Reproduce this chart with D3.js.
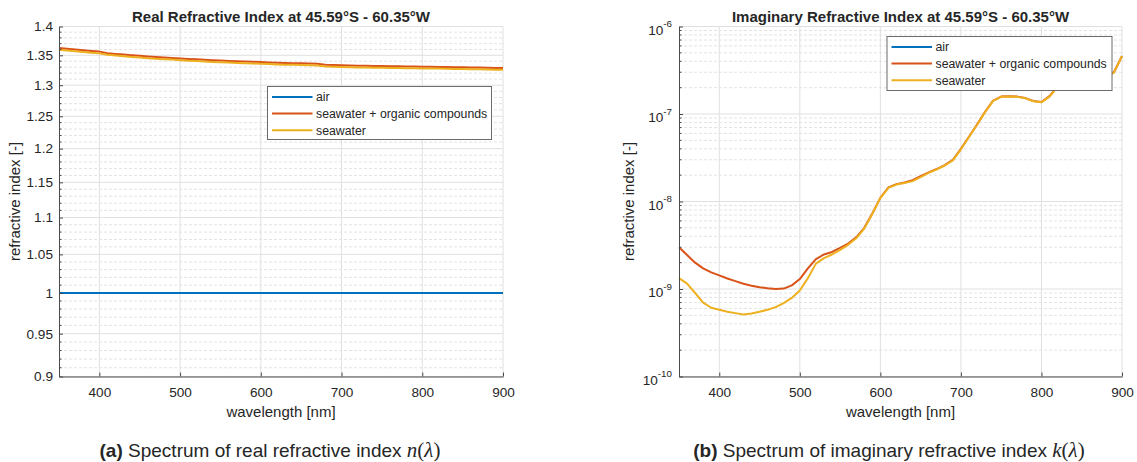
<!DOCTYPE html>
<html>
<head>
<meta charset="utf-8">
<script src="https://cdn.jsdelivr.net/npm/d3@7"></script>
<style>
  body { margin: 0; background: #fff; }
  svg text { font-family: "Liberation Sans", Arial, Helvetica, sans-serif; fill: #262626; }
</style>
</head>
<body>
<svg id="fig" width="1137" height="462"></svg>
<script>
// Wavelength grid [nm]
const wavelength = [350,360,370,380,390,400,410,420,430,440,450,460,470,480,490,500,510,520,530,540,
  550,560,570,580,590,600,610,620,630,640,650,660,670,680,690,700,710,720,730,740,750,760,770,780,790,
  800,810,820,830,840,850,860,870,880,890,900];

// Real part n(λ)
const nAir = [1,1,1,1,1,1,1,1,1,1,1,1,1,1,1,1,1,1,1,1,1,1,1,1,1,1,1,1,1,1,1,1,1,1,1,1,1,1,1,1,
  1,1,1,1,1,1,1,1,1,1,1,1,1,1,1,1];
const nOrganic = [1.3625,1.3611,1.3598,1.3586,1.3574,1.3563,1.3537,1.3524,1.3512,1.3501,1.3491,1.3481,
  1.3472,1.3463,1.3456,1.3446,1.3438,1.3431,1.3424,1.3417,1.3411,1.3405,1.3400,1.3395,1.3390,1.3385,
  1.3380,1.3375,1.3371,1.3367,1.3364,1.3361,1.3358,1.3341,1.3335,1.3330,1.3327,1.3324,1.3322,1.3320,
  1.3318,1.3316,1.3314,1.3312,1.3310,1.3308,1.3306,1.3304,1.3301,1.3299,1.3297,1.3294,1.3292,1.3290,
  1.3287,1.3285];
const nSeawater = [1.3595,1.3582,1.3569,1.3557,1.3545,1.3533,1.3508,1.3495,1.3483,1.3472,1.3462,1.3452,
  1.3443,1.3434,1.3427,1.3417,1.3409,1.3402,1.3395,1.3388,1.3382,1.3376,1.3371,1.3366,1.3361,1.3356,
  1.3351,1.3346,1.3342,1.3338,1.3335,1.3332,1.3329,1.3312,1.3306,1.3301,1.3298,1.3295,1.3293,1.3291,
  1.3289,1.3287,1.3285,1.3283,1.3281,1.3279,1.3277,1.3275,1.3272,1.3270,1.3268,1.3265,1.3263,1.3261,
  1.3258,1.3256];

// Imaginary part k(λ); air is zero and drops out on a log axis
const kAir = [0,0,0,0,0,0,0,0,0,0,0,0,0,0,0,0,0,0,0,0,0,0,0,0,0,0,0,0,0,0,0,0,0,0,0,0,0,0,0,0,
  0,0,0,0,0,0,0,0,0,0,0,0,0,0,0,0];
const kOrganic = [3.0e-9,2.45e-9,2.0e-9,1.72e-9,1.55e-9,1.43e-9,1.32e-9,1.23e-9,1.15e-9,1.09e-9,
  1.05e-9,1.02e-9,1.0e-9,1.01e-9,1.1e-9,1.3e-9,1.72e-9,2.2e-9,2.48e-9,2.65e-9,2.95e-9,3.3e-9,3.9e-9,
  5.0e-9,7.3e-9,1.1e-8,1.45e-8,1.58e-8,1.65e-8,1.75e-8,1.95e-8,2.15e-8,2.35e-8,2.6e-8,3.0e-8,4.0e-8,
  5.5e-8,7.6e-8,1.06e-7,1.42e-7,1.58e-7,1.6e-7,1.58e-7,1.52e-7,1.41e-7,1.37e-7,1.6e-7,2.05e-7,2.4e-7,
  2.7e-7,2.9e-7,2.95e-7,2.85e-7,2.7e-7,3.0e-7,4.6e-7];
const kSeawater = [1.33e-9,1.15e-9,9.0e-10,7.0e-10,6.1e-10,5.8e-10,5.5e-10,5.3e-10,5.1e-10,5.25e-10,
  5.5e-10,5.8e-10,6.2e-10,6.9e-10,7.9e-10,9.6e-10,1.33e-9,1.95e-9,2.25e-9,2.48e-9,2.8e-9,3.2e-9,3.8e-9,
  4.9e-9,7.2e-9,1.1e-8,1.43e-8,1.56e-8,1.63e-8,1.71e-8,1.9e-8,2.12e-8,2.33e-8,2.58e-8,2.95e-8,3.95e-8,
  5.45e-8,7.5e-8,1.05e-7,1.41e-7,1.57e-7,1.59e-7,1.57e-7,1.51e-7,1.4e-7,1.36e-7,1.58e-7,2.03e-7,2.38e-7,
  2.68e-7,2.88e-7,2.93e-7,2.83e-7,2.68e-7,2.97e-7,4.58e-7];

const seriesNames = ["air", "seawater + organic compounds", "seawater"];
const seriesColors = ["#0072BD", "#D95319", "#EDB120"];

const nTicks = [0.9,0.95,1,1.05,1.1,1.15,1.2,1.25,1.3,1.35,1.4];
const kTicks = [1e-10,1e-9,1e-8,1e-7,1e-6];
const xTicks = [400,500,600,700,800,900];

const svg = d3.select("#fig");
const plotTop = 26.5, plotBottom = 376.5;
const tickFont = 13.6, labelFont = 15, legendFont = 12.3;
const serif = '"Liberation Serif", "DejaVu Serif", serif';

function panel(opts) {
  const g = svg.append("g");
  const x = d3.scaleLinear([350, 900], [opts.left, opts.right]);
  const y = opts.y;

  // grid: minor y (dashed), then major x and y
  g.append("g").selectAll("line").data(opts.minor).join("line")
    .attr("x1", opts.left).attr("x2", opts.right)
    .attr("y1", d => y(d)).attr("y2", d => y(d))
    .attr("stroke", "#e3e3e3").attr("stroke-dasharray", "3,2").attr("stroke-width", 1);
  g.append("g").selectAll("line").data(xTicks).join("line")
    .attr("x1", d => x(d)).attr("x2", d => x(d))
    .attr("y1", plotTop).attr("y2", plotBottom)
    .attr("stroke", "#e0e0e0").attr("stroke-width", 1);
  g.append("g").selectAll("line").data(opts.major).join("line")
    .attr("x1", opts.left).attr("x2", opts.right)
    .attr("y1", d => y(d)).attr("y2", d => y(d))
    .attr("stroke", "#e0e0e0").attr("stroke-width", 1);

  // data lines
  const line = d3.line()
    .defined(d => d[1] > 0)
    .x(d => x(d[0])).y(d => y(d[1]));
  opts.series.forEach((vals, i) => {
    const pts = wavelength.map((w, j) => [w, vals[j]]);
    g.append("path").datum(pts)
      .attr("d", line)
      .attr("fill", "none")
      .attr("stroke", seriesColors[i])
      .attr("stroke-width", 2)
      .attr("stroke-linejoin", "round");
  });

  // minor ticks (inward)
  g.append("g").selectAll("line").data(opts.minor).join("line")
    .attr("x1", opts.left).attr("x2", opts.left + 2.5)
    .attr("y1", d => y(d)).attr("y2", d => y(d))
    .attr("stroke", "#4a4a4a").attr("stroke-width", 1);

  // axes
  const ax = g.append("g").attr("transform", `translate(0,${plotBottom})`)
    .call(d3.axisBottom(x).tickValues(xTicks).tickSize(-4).tickSizeOuter(0).tickPadding(10.5));
  const ay = g.append("g").attr("transform", `translate(${opts.left},0)`)
    .call(d3.axisLeft(y).tickValues(opts.major).tickSize(-4).tickSizeOuter(0).tickPadding(6)
      .tickFormat(opts.fmt));
  [ax, ay].forEach(a => {
    a.select(".domain").attr("stroke", "#4a4a4a");
    a.selectAll(".tick line").attr("stroke", "#4a4a4a");
    a.selectAll(".tick text").attr("font-size", tickFont).attr("fill", "#262626")
      .style("font-family", '"Liberation Sans", Arial, sans-serif');
  });
  if (opts.sup) {
    // powers of ten written as 10 with a raised exponent
    ay.selectAll(".tick text").each(function(d) {
      const t = d3.select(this);
      t.text(null).attr("x", -7).attr("dy", null).attr("y", 7.5);
      t.append("tspan").text("10");
      t.append("tspan").attr("dy", "-0.75em").attr("font-size", 9.8)
        .text(String(Math.round(Math.log10(d))));
    });
  }

  // titles and labels
  const cx = (opts.left + opts.right) / 2;
  g.append("text").attr("x", cx).attr("y", 21.5).attr("text-anchor", "middle")
    .attr("font-size", 15).attr("font-weight", "bold").text(opts.title);
  g.append("text").attr("x", cx).attr("y", 416.5).attr("text-anchor", "middle")
    .attr("font-size", labelFont).text("wavelength [nm]");
  g.append("text").attr("transform", `translate(${opts.ylabX},${(plotTop + plotBottom) / 2}) rotate(-90)`)
    .attr("text-anchor", "middle").attr("font-size", labelFont).text("refractive index [-]");

  // caption with math, centred on the whole sub-figure
  const cap = g.append("text").attr("x", opts.capX).attr("y", 456.5).attr("text-anchor", "middle")
    .attr("font-size", 19);
  cap.append("tspan").attr("font-weight", "bold").text(opts.capTag);
  cap.append("tspan").text(" " + opts.capText + " ");
  cap.append("tspan").style("font-family", serif)
    .attr("font-size", 21).attr("font-style", "italic").text(opts.capVar);
  cap.append("tspan").style("font-family", serif)
    .attr("font-size", 21).text("(");
  cap.append("tspan").style("font-family", serif)
    .attr("font-size", 21).attr("font-style", "italic").text("λ");
  cap.append("tspan").style("font-family", serif)
    .attr("font-size", 21).text(")");

  // legend
  const L = opts.legend;
  const lg = g.append("g").attr("transform", `translate(${L.x},${L.y})`);
  lg.append("rect").attr("width", L.w).attr("height", L.h)
    .attr("fill", "#fff").attr("stroke", "#6b6b6b").attr("stroke-width", 1);
  seriesNames.forEach((name, i) => {
    const yy = 10.5 + i * 16.6;
    lg.append("line").attr("x1", 4.5).attr("x2", 45).attr("y1", yy).attr("y2", yy)
      .attr("stroke", seriesColors[i]).attr("stroke-width", 2);
    lg.append("text").attr("x", 48.5).attr("y", yy + 4.4).attr("font-size", legendFont).text(name);
  });
}

// minor tick positions
const nMinor = d3.range(91, 140).map(v => v / 100).filter(v => Math.round(v * 100) % 5 !== 0);
const kMinor = [];
[-10, -9, -8, -7].forEach(e => { for (let m = 2; m <= 9; m++) kMinor.push(m * Math.pow(10, e)); });

panel({
  left: 59, right: 503,
  y: d3.scaleLog([0.9, 1.4], [plotBottom, plotTop]),
  major: nTicks, minor: nMinor,
  fmt: d => String(+d.toFixed(2)),
  series: [nAir, nOrganic, nSeawater],
  title: "Real Refractive Index at 45.59°S - 60.35°W",
  ylabX: 20,
  capX: 270,
  capTag: "(a)", capText: "Spectrum of real refractive index", capVar: "n",
  legend: { x: 267.5, y: 86.5, w: 224, h: 53 }
});

panel({
  left: 679, right: 1122,
  y: d3.scaleLog([1e-10, 1e-6], [plotBottom, plotTop]),
  major: kTicks, minor: kMinor,
  fmt: () => "", sup: true,
  series: [kAir, kOrganic, kSeawater],
  title: "Imaginary Refractive Index at 45.59°S - 60.35°W",
  ylabX: 634,
  capX: 889,
  capTag: "(b)", capText: "Spectrum of imaginary refractive index", capVar: "k",
  legend: { x: 887, y: 36.5, w: 225, h: 54 }
});
</script>
</body>
</html>
